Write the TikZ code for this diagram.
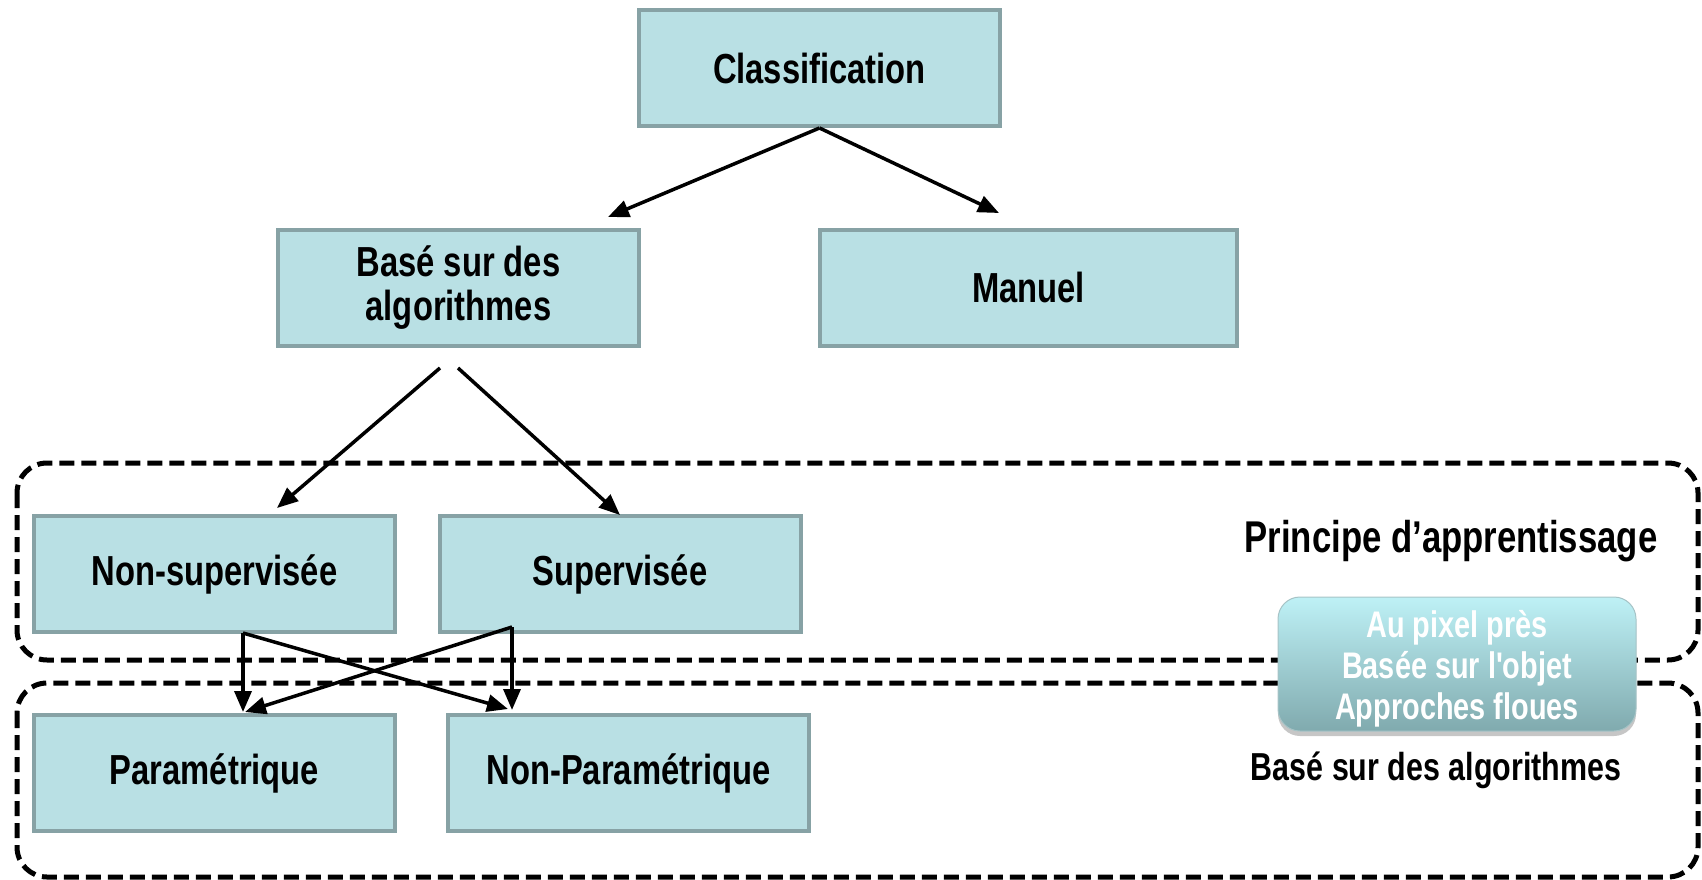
\documentclass[tikz,border=0pt]{standalone}
\usepackage{fontspec}
\setmainfont{Liberation Sans}[FakeStretch=0.78,Ligatures=TeXOff]
\usetikzlibrary{arrows.meta,shadows}

\definecolor{boxfill}{RGB}{185,224,228}
\definecolor{boxline}{RGB}{135,162,165}
\definecolor{glosstop}{RGB}{190,241,246}
\definecolor{glossbot}{RGB}{128,170,174}

\tikzset{
  catbox/.style={draw=boxline, fill=boxfill, line width=4pt, inner sep=0pt,
    minimum width=361pt, minimum height=116pt, align=center,
    font=\fontsize{42}{44}\selectfont\bfseries},
  arr/.style={-{Triangle[length=21pt,width=17pt]}, line width=3.5pt},
  zone/.style={dash pattern=on 15pt off 7pt, line width=5pt, rounded corners=30pt},
  gloss/.style={rounded corners=22pt, top color=glosstop, bottom color=glossbot,
    draw=glossbot!70!white, line width=1pt, minimum width=358pt, minimum height=134pt,
    text=white, inner sep=0pt,
    font=\fontsize{37}{41}\selectfont\bfseries,
    drop shadow={opacity=0.45, shadow xshift=0pt, shadow yshift=-5pt}},
}

\begin{document}
\begin{tikzpicture}[x=1pt, y=-1pt]
  \useasboundingbox (0,0) rectangle (1702,880);

  % the two zones
  \draw [zone] (17,463) rectangle (1698,660);
  \draw [zone] (17,683) rectangle (1698,877);

  \node [catbox] at (819.5,68) (cls) {Classification};
  \node [catbox] at (458.5,287.5) (algo) {Basé sur des\\algorithmes};
  \node [catbox, minimum width=417pt] at (1028.5,287.5) (man) {Manuel};
  \node [catbox] at (214.5,574) (nonsup) {Non-supervisée};
  \node [catbox] at (620,574) (sup) {Supervisée};
  \node [catbox] at (214.5,773) (param) {Paramétrique};
  \node [catbox] at (628.5,773) (nonparam) {Non-Paramétrique};

  \node [font=\fontsize{44.5}{48}\selectfont\bfseries] at (1451,541) (learn) {Principe d’apprentissage};
  \node [font=\fontsize{39}{42}\selectfont\bfseries] at (1436,770) (based) {Basé sur des algorithmes};
  \node [gloss] at (1457,664) (modes) {\raisebox{-6pt}[\height][\depth]{%
    \begin{tabular}{@{}c@{}}Au pixel près\\Basée sur l'objet\\Approches floues\end{tabular}}};

  \coordinate (c1) at (608,217);
  \coordinate (c2) at (999,213);
  \coordinate (a1) at (440,368);
  \coordinate (a2) at (458,368);
  \coordinate (n1) at (277,508);
  \coordinate (s1) at (620,515);
  \coordinate (ns) at (243,633);
  \coordinate (su) at (512,627);
  \coordinate (p1) at (243,712);
  \coordinate (p2) at (245,712);
  \coordinate (q1) at (512,710);
  \coordinate (q2) at (508,709);

  \draw [arr] (cls.south) -- (c1);
  \draw [arr] (cls.south) -- (c2);
  \draw [arr] (a1) -- (n1);
  \draw [arr] (a2) -- (s1);
  \draw [arr] (ns) -- (p1);
  \draw [arr] (ns) -- (q2);
  \draw [arr] (su) -- (q1);
  \draw [arr] (su) -- (p2);
\end{tikzpicture}
\end{document}
